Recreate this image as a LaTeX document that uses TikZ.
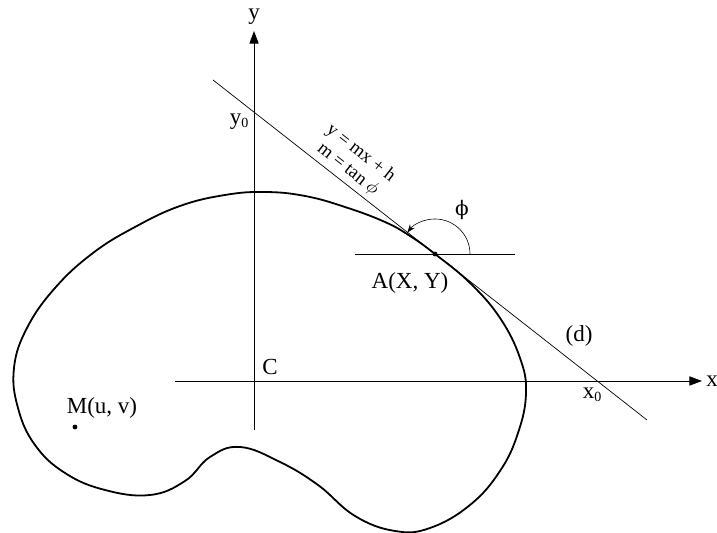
\documentclass[tikz,border=0pt]{standalone}
\usepackage{fontspec}
\setmainfont{Liberation Serif}
\newfontfamily\phifont{DejaVu Serif}
\usetikzlibrary{arrows.meta, positioning, calc}
\newcommand{\zsub}{\raisebox{-0.3ex}{\fontsize{7}{8}\selectfont 0}}

\begin{document}
\begin{tikzpicture}[x=0.5pt, y=0.5pt,
  axis/.style={line width=0.45pt, -{Triangle[length=6.3pt,width=4.6pt]}},
  lbl/.style={font=\fontsize{11.5}{13}\selectfont, inner sep=0pt},
  slbl/.style={font=\fontsize{9.3}{10.2}\selectfont, inner sep=0pt, sloped, align=center},
  dotm/.style={circle, fill, inner sep=0pt, minimum size=2.4pt}]
  \useasboundingbox (0,0) rectangle (717,533);
  % axes
  \coordinate (ybot) at (254,103); \coordinate (ytop) at (254,502);
  \coordinate (xleft) at (175,152); \coordinate (xright) at (702,152);
  \draw[axis] (ybot) -- (ytop);
  \draw[axis] (xleft) -- (xright);
  \node[lbl] (ylab) at (254,516) {y};
  \node[lbl, anchor=west] (xlab) at (706,152) {x};
  \node[lbl] (clab) at (270,166) {C};
  \node[lbl] (y0lab) at (239,411) {y\zsub};
  \node[lbl] (x0lab) at (592,138) {x\zsub};
  % contour
  \draw[line width=0.9pt] plot[smooth cycle, tension=0.7] coordinates {
    (435,279) (470,250) (500,215) (520,175) (526,140) (518,100) (500,62)
    (470,28) (430,5) (395,2) (355,17) (318,48) (280,71) (240,86) (210,76)
    (185,52) (150,38) (105,43) (65,60) (35,88) (18,125) (14,165) (27,205)
    (55,245) (93,280) (135,306) (180,327) (225,338) (265,341) (305,337)
    (345,326) (385,311) (410,297)};
  % tangent (d)
  \coordinate (t1) at (213,453); \coordinate (t2) at (647,113);
  \node[dotm] (A) at (435,279) {};
  \draw[line width=0.35pt] (t1) -- (t2)
    node[slbl, pos=0.293, yshift=11.6pt] (eq) {y = mx + h\\m = tan $\phi$};
  \coordinate (hl) at (355,279); \coordinate (hr) at (515,279);
  \draw[line width=0.4pt] (hl) -- (hr);
  \draw[line width=0.3pt, -{Stealth[length=4pt,width=3pt]}] ($(A)+(35,0)$) arc[start angle=0, end angle=142, radius=17.5pt];
  \node[lbl, font=\fontsize{10}{12}\phifont] (philab) at (462,323) {ϕ};
  \node[lbl] (Alab) at (410,250) {A(X, Y)};
  \node[lbl] (dlab) at (579,197) {(d)};
  % point M
  \node[dotm] (M) at (75,106) {};
  \node[lbl] (Mlab) at (102,125) {M(u, v)};
\end{tikzpicture}
\end{document}
